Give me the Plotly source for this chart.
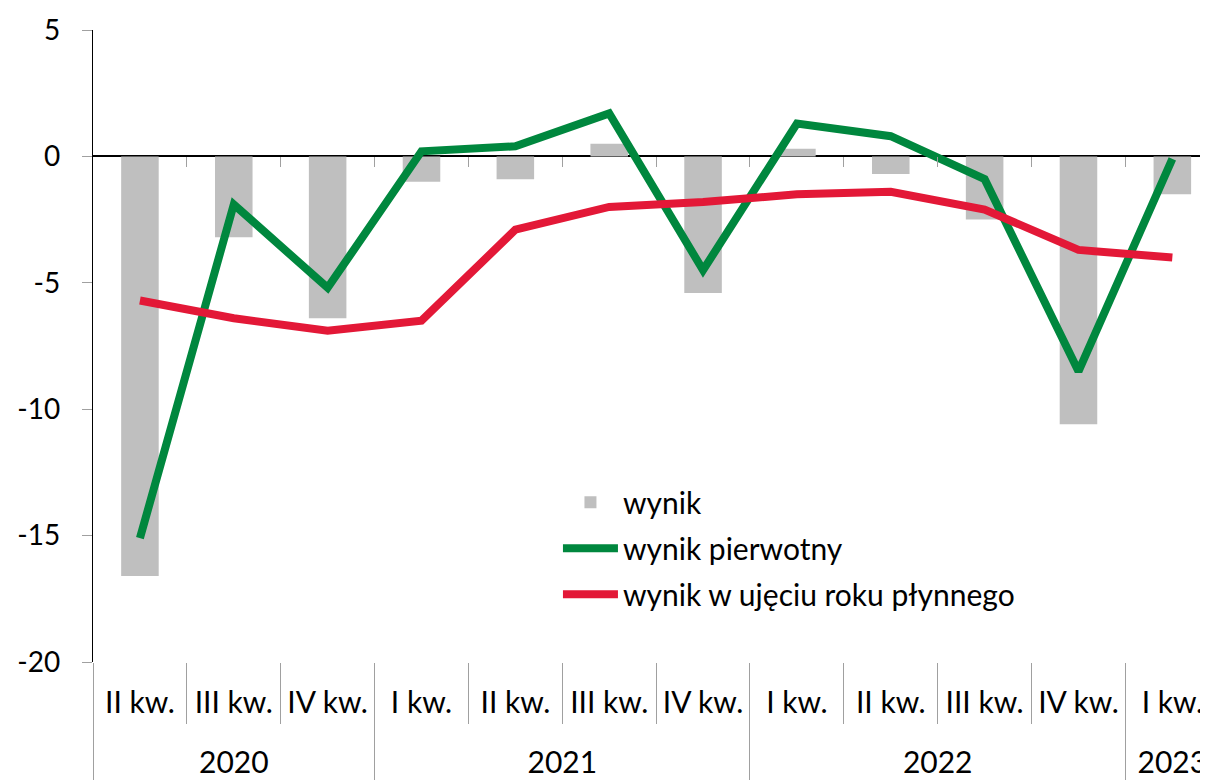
import plotly.graph_objects as go

years = ["2020", "2020", "2020", "2021", "2021", "2021", "2021",
         "2022", "2022", "2022", "2022", "2023"]
quarters = ["II kw.", "III kw.", "IV kw.", "I kw.", "II kw.", "III kw.", "IV kw.",
            "I kw.", "II kw.", "III kw.", "IV kw.", "I kw."]
wynik = [-16.6, -3.2, -6.4, -1.0, -0.9, 0.5, -5.4, 0.3, -0.7, -2.5, -10.6, -1.5]
wynik_pierwotny = [-15.1, -1.9, -5.2, 0.2, 0.4, 1.7, -4.5, 1.3, 0.8, -0.9, -8.5, -0.1]
wynik_roku_plynnego = [-5.7, -6.4, -6.9, -6.5, -2.9, -2.0, -1.8, -1.5, -1.4, -2.1, -3.7, -4.0]
y_ticks = [-20, -15, -10, -5, 0, 5]

FONT = "Lato"
GRAY_TICK = "#A0A0A0"

# unique category keys (year + quarter), labelled with the quarter only
cats = [f"{y} {q}" for y, q in zip(years, quarters)]
n = len(cats)
x_range = [-0.5, n - 0.62]

# year groups derived from the data
group_years, group_start = [], []
for i, y in enumerate(years):
    if not group_years or group_years[-1] != y:
        group_years.append(y)
        group_start.append(i)
group_end = group_start[1:] + [n]
group_centers = [(s + e - 1) / 2 for s, e in zip(group_start, group_end)]
year_bounds = [s - 0.5 for s in group_start]
inner_bounds = [i - 0.5 for i in range(n)]
zero_ticks = [i + 0.5 for i in range(n - 1)]

fig = go.Figure()
fig.add_trace(go.Bar(x=cats, y=wynik, name="wynik",
                     marker=dict(color="#BFBFBF", line=dict(width=0)),
                     width=0.4, legendgroup="a"))
fig.add_trace(go.Scatter(x=cats, y=wynik_pierwotny, name="wynik pierwotny", mode="lines",
                         line=dict(color="#00873E", width=8), legendgroup="b"))
fig.add_trace(go.Scatter(x=cats, y=wynik_roku_plynnego, name="wynik w ujęciu roku płynnego",
                         mode="lines", line=dict(color="#E31837", width=8), legendgroup="c"))
# empty traces so that helper axes get drawn
for ax in ["x2", "x3", "x4"]:
    fig.add_trace(go.Scatter(x=[], y=[], xaxis=ax, yaxis="y", showlegend=False,
                             hoverinfo="skip", mode="lines"))

fig.update_layout(
    width=1208, height=780,
    margin=dict(l=85, r=8, t=22, b=126),
    paper_bgcolor="white", plot_bgcolor="white",
    font=dict(family=FONT, size=30, color="black"),
    showlegend=True,
    legend=dict(x=0.417, y=0.294, xanchor="left", yanchor="top", bgcolor="rgba(0,0,0,0)",
                font=dict(size=30), traceorder="grouped", tracegroupgap=4, itemwidth=55),
    xaxis=dict(type="category", range=x_range, showgrid=False, showline=False,
               tickvals=cats, ticktext=quarters, ticks="", automargin=False,
               ticklabeloverflow="allow",
               ticklabelstandoff=20, tickfont=dict(size=30, family=FONT, color="black")),
    xaxis2=dict(overlaying="x", anchor="y", type="linear", range=x_range,
                tickvals=year_bounds, ticks="outside", ticklen=120, tickcolor=GRAY_TICK,
                tickwidth=1, showticklabels=False, showgrid=False, showline=False,
                zeroline=False, automargin=False,
                minor=dict(tickmode="array", tickvals=inner_bounds, ticks="outside",
                           ticklen=61, tickcolor=GRAY_TICK, tickwidth=1, showgrid=False)),
    xaxis3=dict(overlaying="x", anchor="y", type="linear", range=x_range,
                tickvals=group_centers, ticktext=group_years, ticks="",
                showgrid=False, showline=False, zeroline=False, automargin=False,
                ticklabeloverflow="allow",
                ticklabelstandoff=80, tickfont=dict(size=30, family=FONT, color="black")),
    xaxis4=dict(overlaying="x", anchor="free", position=0.8, type="linear", range=x_range,
                tickvals=zero_ticks, ticks="outside", ticklen=10, tickcolor=GRAY_TICK,
                showticklabels=False, showgrid=False, showline=False, zeroline=False,
                automargin=False),
    yaxis=dict(range=[-20, 5], tickvals=y_ticks, ticktext=[str(v) for v in y_ticks],
               showgrid=False, showline=True, linecolor="black", linewidth=1.3,
               ticks="outside", ticklen=10, tickcolor=GRAY_TICK, zeroline=True,
               zerolinecolor="black", zerolinewidth=1.5, automargin=False,
               ticklabelstandoff=16, tickfont=dict(size=28, family=FONT, color="black")),
    bargap=0.6,
)

fig.write_html("out.html")
